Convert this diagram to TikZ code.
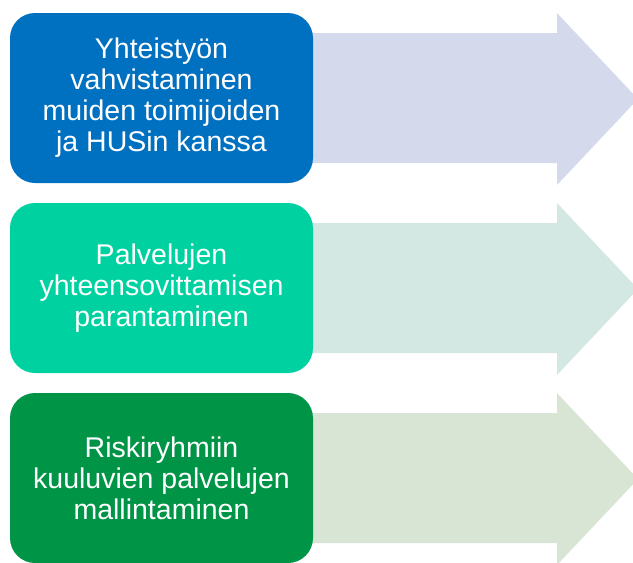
\documentclass[tikz,border=0pt]{standalone}
\usepackage{fontspec}
\setmainfont{Liberation Sans}
\definecolor{goalblue}{HTML}{0070C0}
\definecolor{goalteal}{HTML}{00D1A1}
\definecolor{goalgreen}{HTML}{009447}
\definecolor{flowblue}{HTML}{D4DAEC}
\definecolor{flowteal}{HTML}{D3E8E3}
\definecolor{flowgreen}{HTML}{D8E5D4}
\begin{document}
\begin{tikzpicture}[x=1pt,y=-1pt,
  goal/.style={rounded corners=25pt,minimum width=303pt,minimum height=170pt,align=center,text=white,
    font=\fontsize{28.5}{31}\selectfont}]
\useasboundingbox (0,0) rectangle (633,563);
% arrows behind the boxes
\fill[flowblue] (290,33) -- (557,33) -- (557,13) -- (638,99) -- (557,185) -- (557,163) -- (290,163) -- cycle;
\fill[flowteal] (290,223) -- (557,223) -- (557,203) -- (638,289) -- (557,375) -- (557,353) -- (290,353) -- cycle;
\fill[flowgreen] (290,413) -- (557,413) -- (557,393) -- (638,479) -- (557,565) -- (557,543) -- (290,543) -- cycle;
% boxes
\node[goal,fill=goalblue] (yhteistyo) at (161.5,98) {Yhteistyön\\vahvistaminen\\muiden toimijoiden\\ja HUSin kanssa};
\node[goal,fill=goalteal] (palvelut) at (161.5,288) {Palvelujen\\yhteensovittamisen\\parantaminen};
\node[goal,fill=goalgreen] (riskit) at (161.5,478) {Riskiryhmiin\\kuuluvien palvelujen\\mallintaminen};
\end{tikzpicture}
\end{document}
